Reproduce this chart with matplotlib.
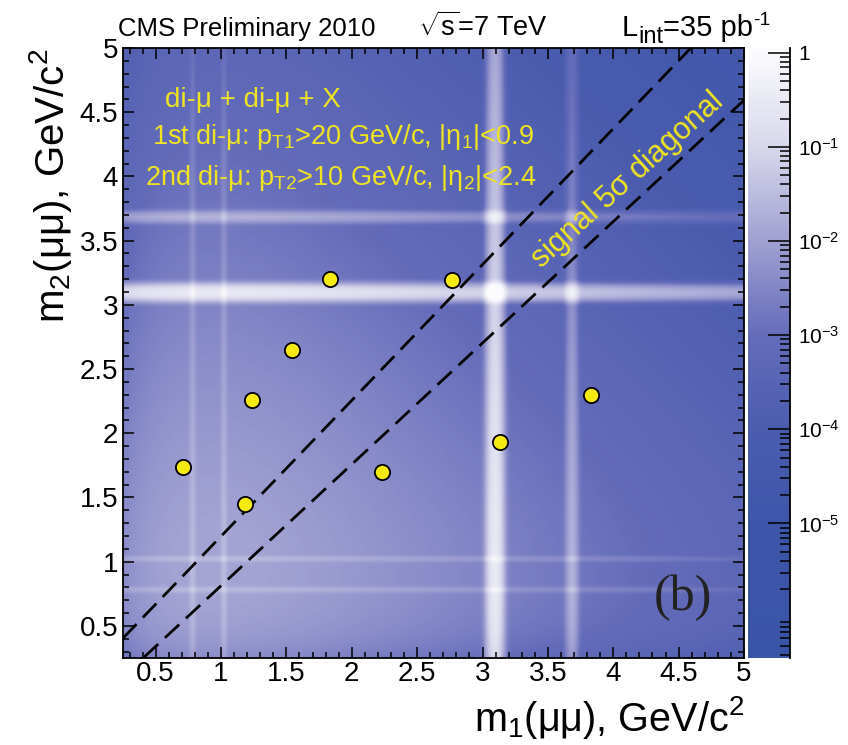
import numpy as np
import matplotlib
matplotlib.use("Agg")
import matplotlib.pyplot as plt
from matplotlib.colors import LinearSegmentedColormap, LogNorm
from matplotlib.ticker import MultipleLocator, LogLocator, FixedLocator, FuncFormatter, NullFormatter

plt.rcParams['font.family'] = ['Liberation Sans', 'DejaVu Sans']
plt.rcParams['mathtext.fontset'] = 'custom'
plt.rcParams['mathtext.rm'] = 'Liberation Sans'
plt.rcParams['mathtext.it'] = 'Liberation Sans:italic'
plt.rcParams['mathtext.sf'] = 'Liberation Sans'

# selected events: masses of the two dimuons (GeV/c^2)
m1_events = [0.71, 1.18, 1.24, 1.54, 1.83, 2.23, 2.77, 3.13, 3.83]
m2_events = [1.74, 1.45, 2.26, 2.65, 3.20, 1.70, 3.19, 1.93, 2.30]

# background template: resonances on top of a smooth continuum
res_mass = [0.78, 1.02, 3.097, 3.686]
res_sigma = [0.015, 0.015, 0.03, 0.025]
res_ampl = [1.5, 1.5, 120.0, 12.0]
cont_norm = 0.41
cont_turnon = 0.6
cont_slope = 0.9

# signal diagonal: m2 = m1*(1+k) + c and its mirror
diag_k = 0.058
diag_c = 0.14

m_lo, m_hi = 0.25, 5.0
z_lo, z_hi = 10 ** -6.43, 10 ** 0.05

# colour palette going from dark blue to white
cmap_pos = [0.0, 0.22, 0.375, 0.529, 0.684, 0.838, 1.0]
cmap_rgb = [(58, 84, 168), (62, 86, 170), (75, 92, 175), (100, 108, 186),
            (160, 160, 210), (215, 215, 235), (252, 252, 254)]
cmap = LinearSegmentedColormap.from_list(
    "cms_blue", [(p, tuple(c / 255 for c in rgb)) for p, rgb in zip(cmap_pos, cmap_rgb)])


def template(m):
    g = cont_norm * (1 - np.exp(-m / cont_turnon)) ** 2 * np.exp(-cont_slope * m)
    peaks = np.ones_like(m)
    for mass, sig, amp in zip(res_mass, res_sigma, res_ampl):
        peaks += amp * np.exp(-0.5 * ((m - mass) / sig) ** 2)
    return g * peaks


fig = plt.figure(figsize=(8.48, 7.45), dpi=100)
W, H = 848, 745
ax = fig.add_axes([123 / W, (H - 658) / H, 621 / W, 610 / H])
cax = fig.add_axes([748 / W, (H - 658) / H, 42 / W, 610 / H])

grid = np.linspace(m_lo, m_hi, 700)
t = template(grid)
z = np.outer(t, t)
im = ax.imshow(z, extent=[m_lo, m_hi, m_lo, m_hi], origin='lower', cmap=cmap,
               norm=LogNorm(vmin=z_lo, vmax=z_hi), aspect='auto', interpolation='bilinear')

# 5 sigma band around the diagonal
xs = np.array([m_lo, m_hi])
for ys in (xs * (1 + diag_k) + diag_c, (xs - diag_c) / (1 + diag_k)):
    line, = ax.plot(xs, ys, color='black', lw=2.0)
    line.set_dashes([7, 3.3])

ax.scatter(m1_events, m2_events, s=120, c='#f5ea12', edgecolors='black', linewidths=1.3, zorder=5)

ax.set_xlim(m_lo, m_hi)
ax.set_ylim(m_lo, m_hi)
for axis in (ax.xaxis, ax.yaxis):
    axis.set_major_locator(MultipleLocator(0.5))
    axis.set_minor_locator(MultipleLocator(0.1))
    axis.set_major_formatter(FuncFormatter(lambda v, p: f"{v:g}"))
ax.tick_params(which='both', direction='in', top=True, right=True, width=1.1, labelsize=20)
ax.tick_params(axis='x', pad=2)
ax.tick_params(which='major', length=8)
ax.tick_params(which='minor', length=4.5)
for s in ax.spines.values():
    s.set_linewidth(1.3)

ax.set_xlabel(r"m$_{1}$(μμ), GeV/c$^{2}$", fontsize=28.5, loc='right', labelpad=5)
ax.set_ylabel(r"m$_{2}$(μμ), GeV/c$^{2}$", fontsize=29, loc='top')

# text inside the frame
yellow = '#f0e422'
ax.text(0.57, 4.595, "di-μ + di-μ + X", color=yellow, fontsize=20, va='center')
ax.text(0.47, 4.307, r"1st di-μ: p$_{\mathrm{T1}}$>20 GeV/c, |η$_{1}$|<0.9", color=yellow, fontsize=19.5, va='center')
ax.text(0.42, 3.99, r"2nd di-μ: p$_{\mathrm{T2}}$>10 GeV/c, |η$_{2}$|<2.4", color=yellow, fontsize=19.5, va='center')
ax.text(4.11, 3.97, "signal 5σ diagonal", color=yellow, fontsize=22, rotation=42,
        rotation_mode='anchor', ha='center', va='center')
ax.text(4.53, 0.72, "(b)", family='Liberation Serif', fontsize=36, color='#222222', ha='center', va='center')

# header line
base = H - 36
fig.text(118 / W, base / H, "CMS Preliminary 2010", fontsize=18.5, va='baseline')
fig.text(418 / W, base / H, r"$\sqrt{\mathrm{s}}$=7 TeV", fontsize=19.5, va='baseline')

# luminosity label put together piece by piece (large sub/superscripts)
renderer = fig.canvas.get_renderer()
x_px = 622
for piece, size, dy in [("L", 21, 0), ("int", 17, -7), ("=35 pb", 21, 0), ("-1", 14, 11)]:
    txt = fig.text(x_px / W, (base + dy) / H, piece, fontsize=size, va='baseline')
    x_px = txt.get_window_extent(renderer).x1

# colour scale
cbar = fig.colorbar(im, cax=cax)
cbar.outline.set_visible(False)
cax.plot([1, 1], [0, 1], transform=cax.transAxes, color='black', lw=1.3, clip_on=False)
cax.yaxis.set_ticks_position('right')
cax.yaxis.set_major_locator(FixedLocator([1e-5, 1e-4, 1e-3, 1e-2, 1e-1, 1]))
cax.yaxis.set_minor_locator(LogLocator(base=10, subs=np.arange(2, 10)))
cax.yaxis.set_minor_formatter(NullFormatter())
cax.yaxis.set_major_formatter(FuncFormatter(lambda v, p: "1" if v == 1 else r"10$^{%d}$" % round(np.log10(v))))
cax.tick_params(which='both', direction='in', width=1.1, labelsize=15, pad=6)
cax.tick_params(which='major', length=16)
cax.tick_params(which='minor', length=7)

fig.savefig("out.png", dpi=100)
